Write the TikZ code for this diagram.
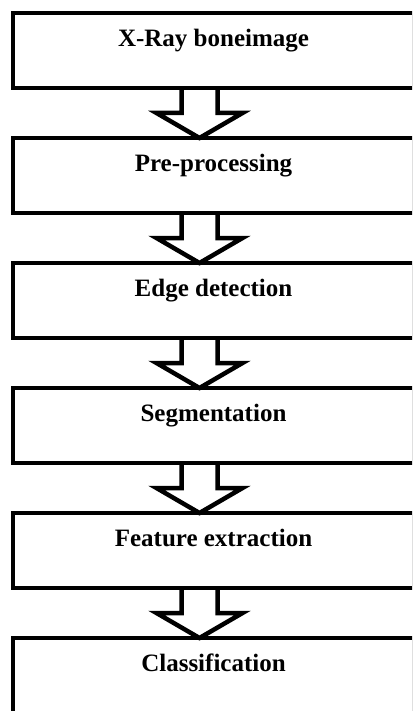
\documentclass[tikz,border=0pt]{standalone}
\usepackage{fontspec}
\setmainfont{Liberation Serif}
\usetikzlibrary{calc,positioning}
\tikzset{
    every node/.style={
        font=\fontsize{25}{30}\selectfont\bfseries
    },
    stepbox/.style={
        shape=rectangle,
        draw,
        line width=4.5pt,
        minimum width=401pt,
        inner ysep=0pt,
        outer sep=0pt,
        text height=33.5pt,
        text depth=41.5pt,
        text centered
    },
    hollow arrow/.style={
        line width=4.5pt,
        line join=miter,
        to path={
            ($(\tikztostart)+(-32,0)$) -- ($(\tikztostart)!.5!(\tikztotarget)+(-32,0)$)
            -- ($(\tikztostart)!.5!(\tikztotarget)+(-57,0)$) -- ($(\tikztotarget)+(-14,0)$)
            -- ($(\tikztostart)!.5!(\tikztotarget)+(29,0)$) -- ($(\tikztostart)!.5!(\tikztotarget)+(4,0)$)
            -- ($(\tikztostart)+(4,0)$)
        }
    }
}

\begin{document}
\begin{tikzpicture}[
            x=1pt, y=1pt,
            node distance=50pt
            ]
            \useasboundingbox (0,0) rectangle (412,-711);
            \clip (0,0) rectangle (412,-711);

            \node (xr) at (213.5, -13) [stepbox, anchor=north] {X-Ray boneimage};
            \node (pp) [below=of xr, stepbox] {Pre-processing};
            \node (ed) [below=of pp, stepbox] {Edge detection};
            \node (sg) [below=of ed, stepbox] {Segmentation};
            \node (fe) [below=of sg, stepbox] {Feature extraction};
            \node (cl) [below=of fe, stepbox] {Classification};

            \draw [hollow arrow] (xr.south) to (pp.north);
            \draw [hollow arrow] (pp.south) to (ed.north);
            \draw [hollow arrow] (ed.south) to (sg.north);
            \draw [hollow arrow] (sg.south) to (fe.north);
            \draw [hollow arrow] (fe.south) to (cl.north);
        \end{tikzpicture}
\end{document}
